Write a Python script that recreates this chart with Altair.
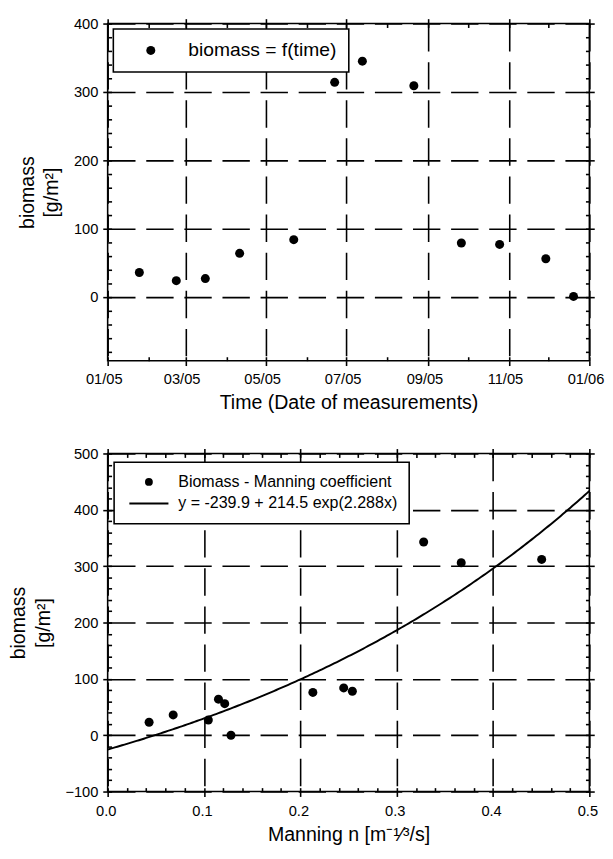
import altair as alt
import pandas as pd

# ---------------- data ----------------
dates = ["2005-01-25", "2005-02-22", "2005-03-16", "2005-04-11", "2005-05-22",
         "2005-06-22", "2005-07-13", "2005-08-21", "2005-09-26", "2005-10-25",
         "2005-11-29", "2005-12-20"]
biomass_time = [36, 24, 27, 64, 84, 314, 345, 309, 79, 77, 56, 1]

manning_n = [0.068, 0.043, 0.1045, 0.115, 0.245, 0.4505, 0.328, 0.367,
             0.254, 0.213, 0.1215, 0.128]
biomass_manning = [36, 23, 27, 64, 84, 312, 343, 306, 78, 76, 56, 0]

# fitted curve stated in the legend: y = a + b * exp(c * x)
fit_a, fit_b, fit_c = -239.9, 214.5, 2.288

label_time = "biomass = f(time)"
label_points = "Biomass - Manning coefficient"
label_fit = "y = -239.9 + 214.5 exp(2.288x)"

y_title = ["biomass", "[g/m²]"]
x_title_time = "Time (Date of measurements)"
x_title_manning = "Manning n [m⁻¹⁄³/s]"

# axis tick values
time_major = [(2005, 1), (2005, 3), (2005, 5), (2005, 7), (2005, 9), (2005, 11), (2006, 1)]
time_minor = [(2005, m) for m in range(1, 13)] + [(2006, 1)]
y_top_major = [0, 100, 200, 300, 400]
y_top_minor = list(range(-80, 401, 20))
y_bot_major = [-100, 0, 100, 200, 300, 400, 500]
y_bot_minor = list(range(-100, 501, 20))
x_bot_major = [0.0, 0.1, 0.2, 0.3, 0.4, 0.5]
x_bot_minor = [i / 50 for i in range(0, 26)]

FONT = "Liberation Sans"
LW = 1.6


def dt(y, m):
    return alt.DateTime(year=y, month=m, date=1, utc=True)


def main_axis(orient, values, title, label_size=15, label_pad=6, title_pad=8, **kw):
    return alt.Axis(orient=orient, values=values, title=title, grid=True,
                    gridColor="black", gridDash=[28, 11], gridWidth=LW, gridOpacity=1,
                    domain=False, ticks=True, tickSize=5, tickColor="black", tickWidth=LW,
                    labelFont=FONT, labelFontSize=label_size, labelColor="black",
                    labelPadding=label_pad, labelFlush=False, labelOverlap=False,
                    titleFont=FONT, titleFontSize=20, titleFontWeight="normal",
                    titleColor="black", titlePadding=title_pad, titleLineHeight=25,
                    minExtent=0, **kw)


def out_axis(orient, values):
    return alt.Axis(orient=orient, values=values, title=None, grid=False, domain=False,
                    labels=False, ticks=True, tickSize=5, tickColor="black", tickWidth=LW,
                    minExtent=0, maxExtent=5)


def in_axis(orient, values):
    return alt.Axis(orient=orient, values=values, title=None, grid=False, domain=False,
                    labels=False, ticks=True, tickSize=4, tickColor="black", tickWidth=LW,
                    offset=-4, minExtent=0, maxExtent=4)


# ---------------- top chart: biomass vs time ----------------
df_t = pd.DataFrame({"date": dates, "biomass": biomass_time, "series": label_time})
xs_t = alt.Scale(type="utc", domain=[dt(2005, 1), dt(2006, 1)])
ys_t = alt.Scale(domain=[-93, 400], nice=False, zero=False)
tmaj = [dt(y, m) for y, m in time_major]
tmin = [dt(y, m) for y, m in time_minor]

base_t = alt.Chart(df_t)
pts_t = base_t.mark_point(filled=True, size=85, opacity=1).encode(
    x=alt.X("date:T", scale=xs_t,
            axis=main_axis("bottom", tmaj, x_title_time, label_size=15,
                           label_pad=6, title_pad=7, format="%m/%y", labelOffset=-4)),
    y=alt.Y("biomass:Q", scale=ys_t,
            axis=main_axis("left", y_top_major, y_title, label_pad=5, title_pad=12)),
    color=alt.Color("series:N", scale=alt.Scale(range=["black"]),
                    legend=alt.Legend(title=None, orient="none", legendX=5.8, legendY=5.6,
                                      padding=12, symbolOffset=16.5, labelOffset=28.5,
                                      labelFont=FONT, labelFontSize=19.7, labelColor="black",
                                      labelLimit=500, fillColor="white", strokeColor="black",
                                      symbolType="circle", symbolSize=85,
                                      symbolFillColor="black", symbolStrokeWidth=0)),
)
frame_out_t = base_t.mark_point(opacity=0).encode(
    x=alt.X("date:T", scale=xs_t, axis=out_axis("top", tmaj)),
    y=alt.Y("biomass:Q", scale=ys_t, axis=out_axis("right", y_top_major)),
)
frame_in_bl_t = base_t.mark_point(opacity=0).encode(
    x=alt.X("date:T", scale=xs_t, axis=in_axis("bottom", tmin)),
    y=alt.Y("biomass:Q", scale=ys_t, axis=in_axis("left", y_top_minor)),
)
frame_in_tr_t = base_t.mark_point(opacity=0).encode(
    x=alt.X("date:T", scale=xs_t, axis=in_axis("top", tmin)),
    y=alt.Y("biomass:Q", scale=ys_t, axis=in_axis("right", y_top_minor)),
)
top = alt.layer(pts_t, frame_out_t, frame_in_bl_t, frame_in_tr_t).resolve_scale(
    x="independent", y="independent").properties(width=493, height=345)

# ---------------- bottom chart: biomass vs Manning n ----------------
df_m = pd.DataFrame({"n": manning_n, "biomass": biomass_manning, "series": label_points})
xs_m = alt.Scale(domain=[0, 0.5], nice=False, zero=False)
ys_m = alt.Scale(domain=[-100, 500], nice=False, zero=False)
base_m = alt.Chart(df_m)

pts_m = base_m.mark_point(filled=True, size=85, opacity=1, color="black").encode(
    x=alt.X("n:Q", scale=xs_m,
            axis=main_axis("bottom", x_bot_major, x_title_manning, label_pad=8,
                           title_pad=6, format=".1f", labelOffset=-2)),
    y=alt.Y("biomass:Q", scale=ys_m,
            axis=main_axis("left", y_bot_major, y_title, label_pad=5, title_pad=12)),
    shape=alt.Shape("series:N",
                    scale=alt.Scale(domain=[label_points, label_fit],
                                    range=["circle", "M-5,-0.25H5V0.25H-5Z"]),
                    legend=alt.Legend(title=None, orient="none", legendX=6.6, legendY=8.9,
                                      padding=12, rowPadding=5, symbolOffset=15.4,
                                      labelOffset=21.8, labelFont=FONT, labelFontSize=16.4,
                                      labelColor="black", labelLimit=500,
                                      fillColor="white", strokeColor="black",
                                      symbolSize=64, symbolFillColor="black",
                                      symbolStrokeWidth=0)),
)
curve = alt.Chart(alt.sequence(0, 0.5001, 0.0025, as_="n")).transform_calculate(
    biomass=f"{fit_a} + {fit_b} * exp({fit_c} * datum.n)"
).mark_line(color="black", strokeWidth=2).encode(
    x=alt.X("n:Q", scale=xs_m, axis=None),
    y=alt.Y("biomass:Q", scale=ys_m, axis=None),
)
frame_out_m = base_m.mark_point(opacity=0).encode(
    x=alt.X("n:Q", scale=xs_m, axis=out_axis("top", x_bot_major)),
    y=alt.Y("biomass:Q", scale=ys_m, axis=out_axis("right", y_bot_major)),
)
frame_in_bl_m = base_m.mark_point(opacity=0).encode(
    x=alt.X("n:Q", scale=xs_m, axis=in_axis("bottom", x_bot_minor)),
    y=alt.Y("biomass:Q", scale=ys_m, axis=in_axis("left", y_bot_minor)),
)
frame_in_tr_m = base_m.mark_point(opacity=0).encode(
    x=alt.X("n:Q", scale=xs_m, axis=in_axis("top", x_bot_minor)),
    y=alt.Y("biomass:Q", scale=ys_m, axis=in_axis("right", y_bot_minor)),
)
bottom = alt.layer(curve, pts_m, frame_out_m, frame_in_bl_m, frame_in_tr_m).resolve_scale(
    x="independent", y="independent").properties(width=493, height=346)

chart = alt.vconcat(top, bottom, spacing=33).resolve_legend(
    color="independent", shape="independent"
).properties(
    padding={"left": 0, "top": -2, "right": 0, "bottom": 0}
).configure_view(stroke="black", strokeWidth=LW).configure_legend(strokeWidth=LW)

chart.save("out.html", embed_options={"renderer": "svg", "actions": False})
